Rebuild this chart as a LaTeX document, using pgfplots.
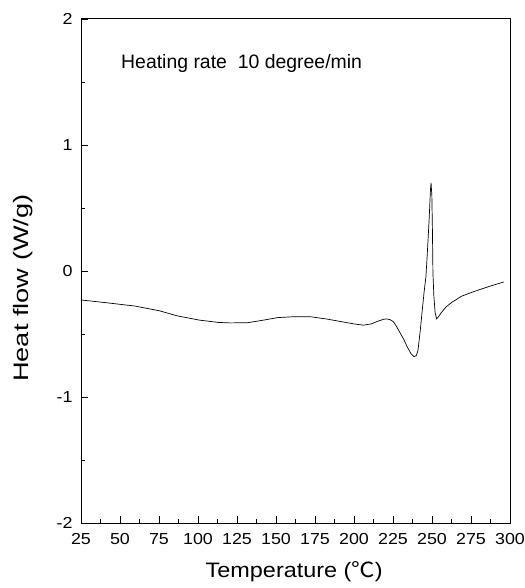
\documentclass[border=0pt]{standalone}
\usepackage{fontspec}
\setmainfont{Liberation Sans}
\newfontfamily\cjk{Noto Sans CJK SC}
\newfontfamily\ywide[FakeStretch=1.3]{Liberation Sans}
\newfontfamily\xwide[FakeStretch=1.12]{Liberation Sans}
\newfontfamily\twide[FakeStretch=1.12]{Liberation Sans}
\newfontfamily\xwidecjk[FakeStretch=1.12]{Noto Sans CJK SC}
\usepackage{pgfplots}
\pgfplotsset{compat=1.18}

\begin{document}
\begin{tikzpicture}
\begin{axis}[
  name=ax,
  scale only axis,
  width=429bp, height=504bp,
  xmin=25, xmax=300, ymin=-2, ymax=2,
  xtick={25,50,...,300},
  ytick={-2,-1,0,1,2},
  minor x tick num=1,
  minor y tick num=1,
  tick pos=left,
  tick align=inside,
  major tick length=7bp,
  minor tick length=4bp,
  axis line style={line width=1pt},
  every tick/.style={line width=0.8pt},
  /pgf/number format/assume math mode=true,
  ticklabel style={font=\fontsize{16}{16}\twide},
  xticklabel style={yshift=-7bp},
  yticklabel style={xshift=-5bp},
  xlabel={Temperature ({\xwidecjk ℃})},
  ylabel={Heat flow (W/g)},
  xlabel style={font=\fontsize{21}{21}\xwide, at={(axis description cs:0.497,-0.109)}, anchor=base},
  ylabel style={font=\fontsize{21}{21}\ywide, at={(axis description cs:-0.135,0.466)}, anchor=center},
]
\addplot[black, line width=0.7pt] coordinates {
(25,-0.23) (40,-0.25) (59.4,-0.278) (75,-0.315) (87,-0.357) (101,-0.39)
(113,-0.408) (120.5,-0.412) (132,-0.41) (142,-0.39) (151,-0.37) (161,-0.363)
(172,-0.363) (182,-0.38) (191,-0.40) (200,-0.42) (206,-0.43) (211,-0.42)
(215,-0.40) (219,-0.383) (221,-0.38) (223,-0.386) (225,-0.40) (227,-0.435)
(229.5,-0.49) (232,-0.545) (234,-0.60) (236.5,-0.655) (238.5,-0.68) (240,-0.67)
(241,-0.63) (242.5,-0.47) (244,-0.28) (245,-0.16) (246.1,-0.045) (247,0.14)
(248.2,0.42) (249.0,0.64) (249.4,0.70) (249.9,0.60) (250.3,0.30) (250.6,-0.016)
(251.2,-0.20) (252,-0.33) (253,-0.38) (254,-0.365) (256,-0.33) (259,-0.285)
(263,-0.246) (269,-0.20) (276,-0.167) (286,-0.125) (296,-0.087)
};
\node[anchor=west, font=\fontsize{19.5}{19.5}\selectfont] at (axis cs:48.5,1.65) {Heating rate~~10 degree/min};
\end{axis}
\pgfresetboundingbox
\path[use as bounding box] ([shift={(-81bp,-65bp)}]ax.south west) rectangle ([shift={(15bp,19bp)}]ax.north east);
\end{tikzpicture}
\end{document}
